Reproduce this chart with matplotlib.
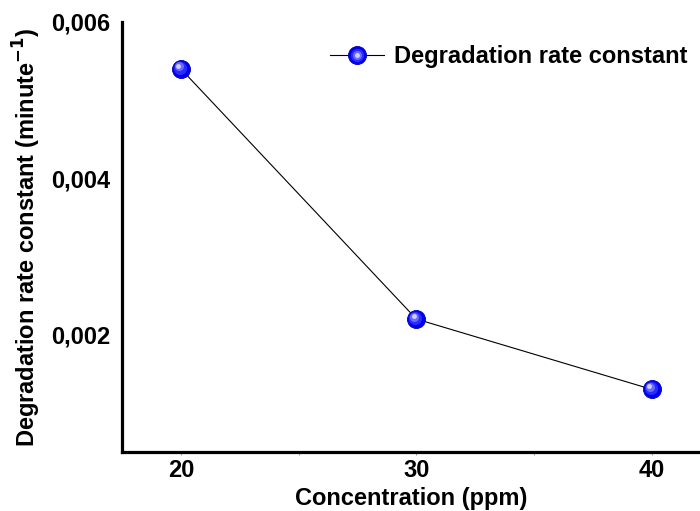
import matplotlib.pyplot as plt
from matplotlib.transforms import offset_copy

plt.rcParams['font.family'] = ['Liberation Sans', 'DejaVu Sans']
plt.rcParams['font.weight'] = 'bold'
plt.rcParams['mathtext.default'] = 'bf'

# data
conc = [20, 30, 40]
rate = [0.0054, 0.0022, 0.0013]
xticks = [20, 30, 40]
yticks = [0.002, 0.004, 0.006]
ytick_labels = ["0,002", "0,004", "0,006"]

FS = 17

fig = plt.figure(figsize=(7, 5.11), dpi=100)
ax = fig.add_axes([0.1743, 0.1155, 0.8257, 0.8415])

# line
ax.plot(conc, rate, color="black", linewidth=0.8, zorder=2)

# shaded sphere markers: base + lighter highlights shifted up-left
base, = ax.plot(conc, rate, linestyle="none", marker="o", markersize=13,
                markerfacecolor="#0000f0", markeredgecolor="#0000b0",
                markeredgewidth=0.6, zorder=3)
shades = [("#2a2aff", 9.5, -0.7, 0.9), ("#6a6aff", 6.5, -1.4, 1.8),
          ("#d0d0ff", 3.5, -2.0, 2.4)]
hl = []
for col, ms, dx, dy in shades:
    tr = offset_copy(ax.transData, fig=fig, x=dx, y=dy, units="points")
    h, = ax.plot(conc, rate, linestyle="none", marker="o", markersize=ms,
                 markerfacecolor=col, markeredgewidth=0, transform=tr,
                 zorder=4)
    hl.append(h)

ax.set_xlim(17.5, 42.04)
ax.set_ylim(0.0005, 0.006)

ax.set_xticks(xticks)
ax.set_xticks([25, 35], minor=True)
ax.set_yticks(yticks)
ax.set_yticklabels(ytick_labels)

ax.tick_params(axis="x", which="both", length=2, width=0.6, color="#888888",
               labelsize=FS, pad=3)
ax.tick_params(axis="y", length=0, labelsize=FS, pad=8.5)

for s in ["top", "right"]:
    ax.spines[s].set_visible(False)
for s in ["left", "bottom"]:
    ax.spines[s].set_linewidth(2.3)

ax.set_xlabel("Concentration (ppm)", fontsize=FS, fontweight="bold",
              labelpad=4)
ax.set_ylabel("Degradation rate constant (minute$^{-1}$)",
              fontsize=FS, fontweight="bold", labelpad=6)

line_h, = ax.plot([], [], color="black", linewidth=0.8)
ax.legend([(line_h, base, hl[0], hl[1], hl[2])], ["Degradation rate constant"],
          loc="center left", bbox_to_anchor=(330 / 700, 1 - 57 / 511),
          bbox_transform=fig.transFigure, frameon=False, borderpad=0,
          borderaxespad=0, fontsize=FS, handlelength=2.3, handletextpad=0.4)

fig.savefig("out.png", dpi=100)
